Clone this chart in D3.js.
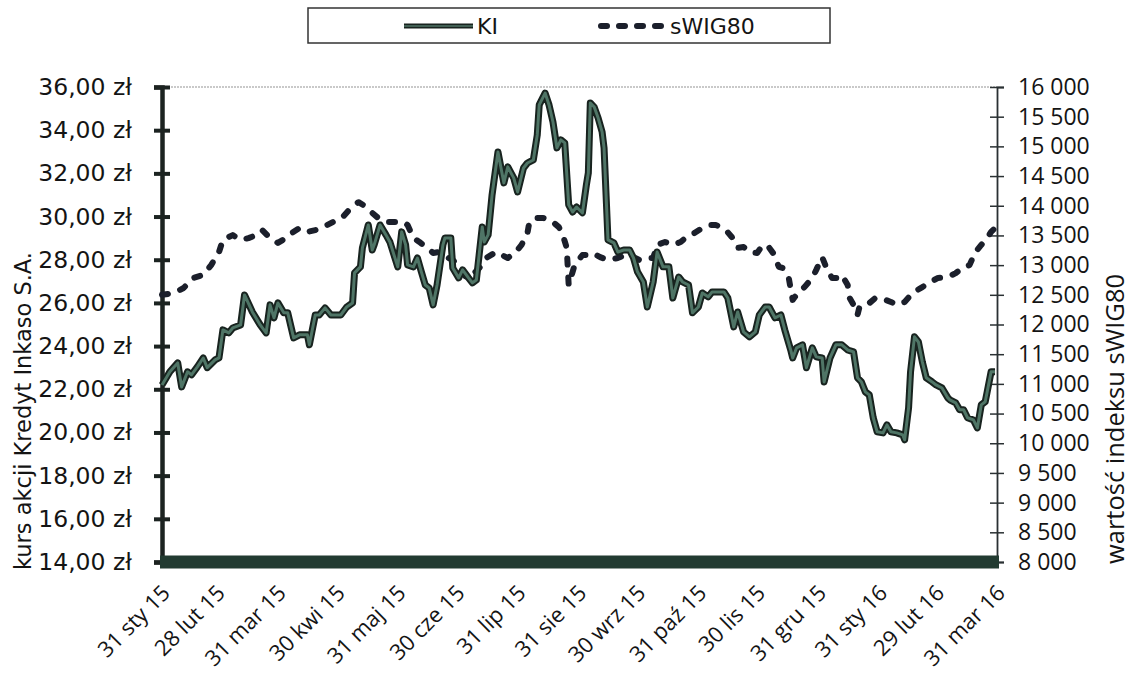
<!DOCTYPE html>
<html><head><meta charset="utf-8">
<script src="https://cdn.jsdelivr.net/npm/d3@7"></script>
<style>body{margin:0;background:#fff}</style>
</head><body><svg id="c" width="1138" height="679"></svg>
<script>
const seriesNames = ["KI", "sWIG80"];
const xTickDates = ["2015-01-31","2015-02-28","2015-03-31","2015-04-30","2015-05-31","2015-06-30","2015-07-31","2015-08-31","2015-09-30","2015-10-31","2015-11-30","2015-12-31","2016-01-31","2016-02-29","2016-03-31"];
const xTickLabels = ["31 sty 15","28 lut 15","31 mar 15","30 kwi 15","31 maj 15","30 cze 15","31 lip 15","31 sie 15","30 wrz 15","31 paź 15","30 lis 15","31 gru 15","31 sty 16","29 lut 16","31 mar 16"];
const leftTicks = [14,16,18,20,22,24,26,28,30,32,34,36];
const rightTicks = [8000,8500,9000,9500,10000,10500,11000,11500,12000,12500,13000,13500,14000,14500,15000,15500,16000];

const kiDates = ["2015-01-31","2015-02-04","2015-02-08","2015-02-10","2015-02-13","2015-02-15","2015-02-18","2015-02-21","2015-02-23","2015-02-27","2015-03-01","2015-03-03","2015-03-06","2015-03-08","2015-03-12","2015-03-14","2015-03-18","2015-03-22","2015-03-25","2015-03-27","2015-03-29","2015-03-31","2015-04-03","2015-04-05","2015-04-08","2015-04-11","2015-04-15","2015-04-16","2015-04-19","2015-04-21","2015-04-24","2015-04-27","2015-05-02","2015-05-05","2015-05-08","2015-05-09","2015-05-12","2015-05-13","2015-05-16","2015-05-18","2015-05-19","2015-05-22","2015-05-25","2015-05-27","2015-05-31","2015-06-02","2015-06-04","2015-06-05","2015-06-08","2015-06-10","2015-06-12","2015-06-14","2015-06-16","2015-06-18","2015-06-20","2015-06-23","2015-06-24","2015-06-27","2015-06-28","2015-07-01","2015-07-03","2015-07-06","2015-07-08","2015-07-10","2015-07-13","2015-07-14","2015-07-16","2015-07-18","2015-07-21","2015-07-24","2015-07-26","2015-07-29","2015-07-31","2015-08-03","2015-08-05","2015-08-08","2015-08-10","2015-08-11","2015-08-14","2015-08-16","2015-08-18","2015-08-20","2015-08-22","2015-08-24","2015-08-26","2015-08-28","2015-08-30","2015-09-02","2015-09-04","2015-09-05","2015-09-06","2015-09-08","2015-09-10","2015-09-12","2015-09-13","2015-09-15","2015-09-18","2015-09-20","2015-09-23","2015-09-26","2015-09-28","2015-09-30","2015-10-03","2015-10-05","2015-10-08","2015-10-10","2015-10-13","2015-10-16","2015-10-18","2015-10-21","2015-10-23","2015-10-26","2015-10-28","2015-10-31","2015-11-02","2015-11-05","2015-11-07","2015-11-10","2015-11-13","2015-11-15","2015-11-18","2015-11-20","2015-11-23","2015-11-26","2015-11-29","2015-12-01","2015-12-04","2015-12-06","2015-12-09","2015-12-12","2015-12-14","2015-12-17","2015-12-18","2015-12-20","2015-12-23","2015-12-25","2015-12-28","2015-12-30","2016-01-02","2016-01-03","2016-01-06","2016-01-09","2016-01-12","2016-01-15","2016-01-18","2016-01-20","2016-01-22","2016-01-24","2016-01-26","2016-01-28","2016-01-30","2016-02-02","2016-02-04","2016-02-06","2016-02-09","2016-02-12","2016-02-13","2016-02-15","2016-02-16","2016-02-18","2016-02-20","2016-02-22","2016-02-24","2016-02-27","2016-02-29","2016-03-03","2016-03-06","2016-03-07","2016-03-10","2016-03-12","2016-03-14","2016-03-16","2016-03-19","2016-03-21","2016-03-23","2016-03-25","2016-03-26","2016-03-28","2016-03-30"];
const kiValues = [22.20,22.81,23.22,22.11,22.81,22.67,23.04,23.45,23.00,23.36,23.45,24.75,24.61,24.84,24.98,26.37,25.58,24.98,24.61,25.91,25.31,26.00,25.54,25.54,24.38,24.52,24.52,24.06,25.44,25.44,25.77,25.44,25.44,25.81,26.00,27.39,27.67,28.55,29.61,28.45,28.69,29.61,29.15,28.82,27.67,29.29,28.69,27.76,27.67,28.08,27.44,26.83,26.69,25.91,26.83,28.69,29.01,29.01,27.62,27.16,27.53,27.16,26.93,27.06,29.52,28.82,29.15,31.00,32.99,31.56,32.30,31.79,31.14,32.25,32.48,32.62,33.78,35.17,35.72,35.17,34.38,33.18,33.55,33.41,30.54,30.21,30.44,30.17,31.46,32.02,35.26,35.07,34.56,33.92,33.18,28.92,28.78,28.36,28.45,28.45,28.08,27.44,26.97,25.81,26.97,28.36,27.67,27.67,26.23,27.20,26.97,26.83,25.54,25.81,26.46,26.28,26.51,26.51,26.51,26.23,24.89,25.58,24.66,24.43,24.66,25.44,25.81,25.81,25.31,25.44,24.75,23.82,23.45,23.92,24.06,23.00,23.92,23.50,23.45,22.34,23.45,24.06,24.06,23.82,23.73,22.53,22.34,21.88,21.74,20.68,20.03,19.98,20.35,20.03,19.98,19.89,19.66,21.14,22.81,24.43,24.19,23.27,22.53,22.34,22.20,22.06,21.60,21.51,21.37,21.05,21.05,20.68,20.58,20.21,21.28,21.42,21.88,22.81,22.81];

const swigDates = ["2015-01-31","2015-02-06","2015-02-11","2015-02-16","2015-02-21","2015-02-25","2015-03-01","2015-03-03","2015-03-08","2015-03-12","2015-03-16","2015-03-20","2015-03-23","2015-03-27","2015-03-31","2015-04-04","2015-04-07","2015-04-11","2015-04-15","2015-04-19","2015-04-23","2015-04-28","2015-05-03","2015-05-07","2015-05-11","2015-05-15","2015-05-18","2015-05-21","2015-05-26","2015-05-30","2015-06-03","2015-06-05","2015-06-08","2015-06-11","2015-06-15","2015-06-18","2015-06-21","2015-06-25","2015-06-28","2015-07-02","2015-07-05","2015-07-08","2015-07-12","2015-07-15","2015-07-20","2015-07-23","2015-07-26","2015-07-30","2015-08-02","2015-08-05","2015-08-06","2015-08-10","2015-08-13","2015-08-18","2015-08-21","2015-08-23","2015-08-25","2015-08-26","2015-08-28","2015-08-29","2015-09-02","2015-09-04","2015-09-07","2015-09-11","2015-09-15","2015-09-20","2015-09-24","2015-09-28","2015-10-01","2015-10-05","2015-10-08","2015-10-10","2015-10-14","2015-10-18","2015-10-22","2015-10-25","2015-10-29","2015-11-02","2015-11-06","2015-11-09","2015-11-14","2015-11-17","2015-11-20","2015-11-23","2015-11-26","2015-11-30","2015-12-02","2015-12-05","2015-12-08","2015-12-11","2015-12-13","2015-12-16","2015-12-18","2015-12-21","2015-12-24","2015-12-28","2015-12-30","2016-01-02","2016-01-04","2016-01-07","2016-01-10","2016-01-12","2016-01-15","2016-01-16","2016-01-18","2016-01-20","2016-01-21","2016-01-25","2016-01-29","2016-02-01","2016-02-06","2016-02-09","2016-02-13","2016-02-17","2016-02-22","2016-02-26","2016-03-01","2016-03-06","2016-03-10","2016-03-14","2016-03-17","2016-03-20","2016-03-23","2016-03-26","2016-03-28","2016-03-30"];
const swigValues = [12500,12530,12615,12785,12835,13000,13220,13425,13505,13425,13455,13505,13590,13455,13375,13455,13540,13625,13560,13590,13640,13725,13810,13960,14060,13980,13880,13795,13725,13725,13725,13675,13455,13390,13290,13205,13220,13135,13085,12950,12785,12835,12970,13120,13220,13170,13120,13220,13340,13540,13725,13795,13795,13725,13640,13505,13290,12665,12885,13000,13170,13170,13205,13135,13085,13120,13170,13135,13085,13120,13120,13340,13390,13340,13390,13475,13540,13625,13675,13675,13590,13475,13290,13305,13220,13205,13305,13340,13205,12970,12950,12785,12415,12545,12630,12785,12920,13135,12970,12785,12785,12835,12665,12445,12330,12160,12295,12330,12445,12445,12380,12330,12380,12530,12630,12715,12785,12800,12865,12970,13000,13220,13340,13455,13560,13625];

const parse = d3.timeParse("%Y-%m-%d");
const ki = kiDates.map((d,i)=>({date:parse(d), v:kiValues[i]}));
const swig = swigDates.map((d,i)=>({date:parse(d), v:swigValues[i]}));

const L = 162, R = 997, T = 87, B = 562;
const x = d3.scaleTime().domain([parse(xTickDates[0]), parse(xTickDates[xTickDates.length-1])]).range([L, R]);
const yL = d3.scaleLinear().domain([14,36]).range([B, T]);
const yR = d3.scaleLinear().domain([8000,16000]).range([B, T]);

const loc = d3.formatLocale({decimal:",", thousands:" ", grouping:[3], currency:["",""]});
const fL = v => loc.format(",.2f")(v) + " zł";
const fR = v => loc.format(",.0f")(v);

const svg = d3.select("#c");
const ink = "#1c2321";

// top dotted border
svg.append("line").attr("x1",L).attr("x2",R).attr("y1",T).attr("y2",T)
  .attr("stroke","#b8b8b8").attr("stroke-width",1.5).attr("stroke-dasharray","2,1");

// left axis
const gL = svg.append("g").attr("transform",`translate(${L},0)`)
  .call(d3.axisLeft(yL).tickValues(leftTicks).tickFormat(fL).tickSize(8).tickPadding(22));
gL.select(".domain").attr("stroke",ink).attr("stroke-width",4.5);
gL.selectAll(".tick line").attr("stroke",ink).attr("stroke-width",4).attr("x1",8);
gL.selectAll(".tick text").attr("font-family","DejaVu Sans").attr("font-size",23.5).attr("fill","#141414");

// right axis
const gR = svg.append("g").attr("transform",`translate(${R},0)`)
  .call(d3.axisRight(yR).tickValues(rightTicks).tickFormat(fR).tickSize(7).tickPadding(14));
gR.select(".domain").attr("stroke","#2a3033").attr("stroke-width",1.8);
gR.selectAll(".tick line").attr("stroke","#2a3033").attr("stroke-width",1.5).attr("x1",-7);
gR.selectAll(".tick text").attr("font-family","Open Sans").attr("font-size",23).attr("fill","#141414");

// bottom thick axis band
svg.append("line").attr("x1",L-2).attr("x2",R+2).attr("y1",B).attr("y2",B)
  .attr("stroke","#223b31").attr("stroke-width",13);

// x labels
const gX = svg.append("g");
xTickDates.forEach((d,i)=>{
  gX.append("text")
    .attr("transform",`translate(${x(parse(d))+4},${B+27}) rotate(-45)`)
    .attr("text-anchor","end")
    .attr("dy","0.35em")
    .attr("font-family","Open Sans").attr("font-size",22).attr("fill","#141414")
    .text(xTickLabels[i]);
});

// axis titles
svg.append("text").attr("transform",`translate(31,411) rotate(-90)`)
  .attr("text-anchor","middle").attr("font-family","DejaVu Sans").attr("font-size",22.5).attr("fill","#141414")
  .text("kurs akcji Kredyt Inkaso S.A.");
svg.append("text").attr("transform",`translate(1124,419) rotate(-90)`)
  .attr("text-anchor","middle").attr("font-family","Open Sans").attr("font-size",25.5).attr("fill","#141414")
  .text("wartość indeksu sWIG80");

// lines
const lineL = d3.line().x(d=>x(d.date)).y(d=>yL(d.v));
const lineR = d3.line().x(d=>x(d.date)).y(d=>yR(d.v));
svg.append("path").datum(swig).attr("d",lineR).attr("fill","none")
  .attr("stroke","#1b1f2b").attr("stroke-width",6).attr("stroke-dasharray","6,13")
  .attr("stroke-linecap","round").attr("stroke-linejoin","round");
svg.append("path").datum(ki).attr("d",lineL).attr("fill","none")
  .attr("stroke","#18231f").attr("stroke-width",7).attr("stroke-linejoin","round");
svg.append("path").datum(ki).attr("d",lineL).attr("fill","none")
  .attr("stroke","#4f7566").attr("stroke-width",3).attr("stroke-linejoin","round");

// legend
const lg = svg.append("g");
lg.append("rect").attr("x",308).attr("y",8).attr("width",522).attr("height",35)
  .attr("fill","#fff").attr("stroke","#333").attr("stroke-width",1.5);
lg.append("line").attr("x1",404).attr("x2",473).attr("y1",26).attr("y2",26)
  .attr("stroke","#18231f").attr("stroke-width",5);
lg.append("line").attr("x1",404).attr("x2",473).attr("y1",26).attr("y2",26)
  .attr("stroke","#4f7566").attr("stroke-width",1.5);
lg.append("text").attr("x",477).attr("y",34).attr("font-family","DejaVu Sans").attr("font-size",22).attr("fill","#141414").text(seriesNames[0]);
lg.append("line").attr("x1",601).attr("x2",667).attr("y1",26).attr("y2",26)
  .attr("stroke","#1b1f2b").attr("stroke-width",6).attr("stroke-dasharray","6,12").attr("stroke-linecap","round");
lg.append("text").attr("x",670).attr("y",34).attr("font-family","DejaVu Sans").attr("font-size",22).attr("fill","#141414").text(seriesNames[1]);
</script></body></html>
